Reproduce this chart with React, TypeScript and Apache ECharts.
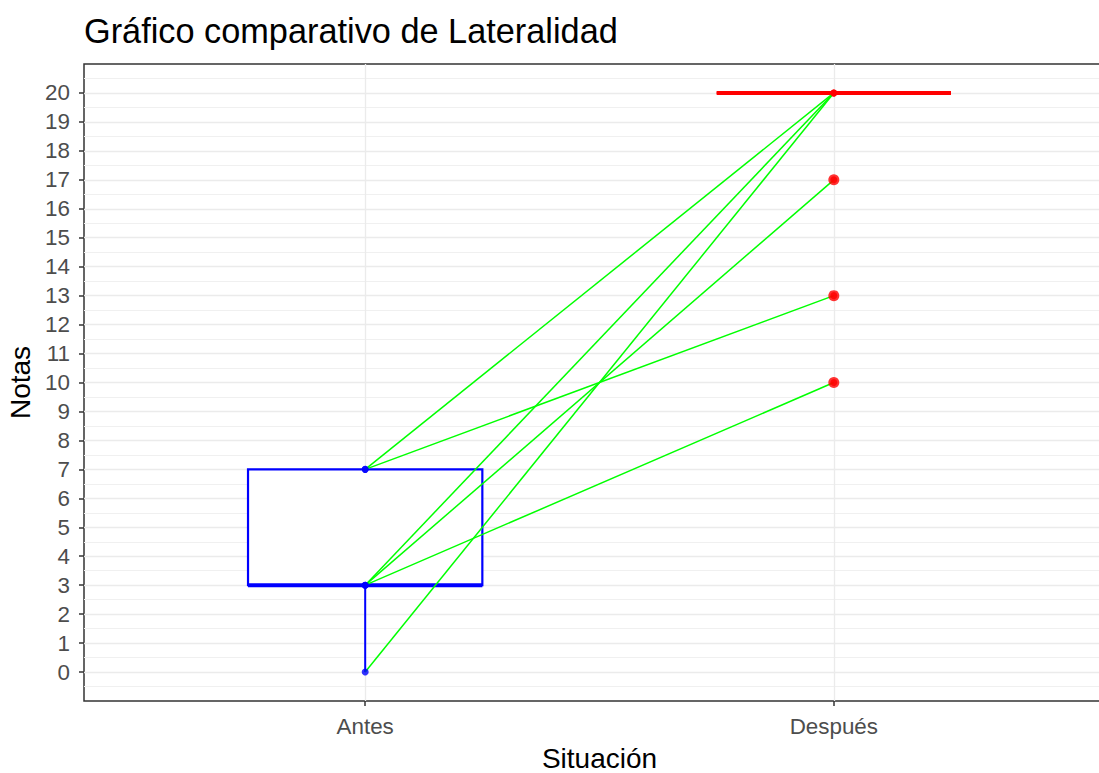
import React, { useEffect, useRef } from "react";
import * as echarts from "echarts";

// ---- Data ----
const categories = ["Antes", "Después"];
const categoryPositions = [1, 2];
const yTicks = [0, 1, 2, 3, 4, 5, 6, 7, 8, 9, 10, 11, 12, 13, 14, 15, 16, 17, 18, 19, 20];

// paired scores (Antes -> Después) drawn as green lines
const antesScores = [7, 7, 3, 3, 3, 0];
const despuesScores = [20, 13, 20, 17, 10, 20];

// boxplot statistics per situation
const boxMin = [0, 20];
const boxQ1 = [3, 20];
const boxMedian = [3, 20];
const boxQ3 = [7, 20];
const boxMax = [7, 20];
const boxColors = ["#0000FF", "#FF0000"];

// outliers of "Después"
const despuesOutliers = [10, 13, 17];

const FONT = "'Liberation Sans', Arial, Helvetica, sans-serif";
const BOX_WIDTH = 0.5;

export default function App() {
  const ref = useRef<HTMLDivElement>(null);

  useEffect(() => {
    if (!ref.current) return;
    const chart = echarts.init(ref.current, undefined, { renderer: "svg" });

    const boxData = categoryPositions.map((x, i) => [
      x,
      boxMin[i],
      boxQ1[i],
      boxMedian[i],
      boxQ3[i],
      boxMax[i],
    ]);

    const lineSeries = antesScores.map((a, i) => ({
      type: "line",
      data: [
        [categoryPositions[0], a],
        [categoryPositions[1], despuesScores[i]],
      ],
      symbol: "none",
      lineStyle: { color: "#00FF00", width: 1.5 },
      silent: true,
      z: 3,
    }));

    const option: any = {
      animation: false,
      backgroundColor: "#FFFFFF",
      title: {
        text: "Gráfico comparativo de Lateralidad",
        left: 84,
        top: 14,
        padding: 0,
        textStyle: {
          fontFamily: FONT,
          fontSize: 34.3,
          fontWeight: "normal",
          color: "#000000",
        },
      },
      grid: {
        left: 84,
        top: 64,
        width: 1031,
        height: 637,
        show: true,
        borderColor: "#333333",
        borderWidth: 1.5,
        backgroundColor: "#FFFFFF",
        containLabel: false,
        outerBoundsMode: "none",
      },
      xAxis: {
        type: "value",
        min: 0.4,
        max: 2.6,
        name: "Situación",
        nameLocation: "middle",
        nameGap: 44,
        nameTextStyle: { fontFamily: FONT, fontSize: 28, lineHeight: 27, color: "#000000" },
        axisLine: { show: false, onZero: false },
        axisTick: {
          show: true,
          customValues: categoryPositions,
          length: 5,
          lineStyle: { color: "#333333", width: 1.5 },
        },
        axisLabel: {
          customValues: categoryPositions,
          formatter: (v: number) => {
            const idx = categoryPositions.indexOf(Math.round(v));
            return idx >= 0 ? categories[idx] : "";
          },
          margin: 14,
          fontFamily: FONT,
          fontSize: 22.4,
          color: "#4D4D4D",
        },
        splitLine: { show: true, lineStyle: { color: "#EBEBEB", width: 1.3 } },
      },
      yAxis: {
        type: "value",
        min: -1,
        max: 21,
        interval: 1,
        name: "Notas",
        nameLocation: "middle",
        nameGap: 48,
        nameTextStyle: { fontFamily: FONT, fontSize: 28, color: "#000000" },
        axisLine: { show: false, onZero: false },
        axisTick: {
          show: true,
          customValues: yTicks,
          length: 5,
          lineStyle: { color: "#333333", width: 1.5 },
        },
        axisLabel: {
          customValues: yTicks,
          margin: 14,
          fontFamily: FONT,
          fontSize: 22.4,
          color: "#4D4D4D",
        },
        splitLine: { show: true, lineStyle: { color: "#EBEBEB", width: 1.3 } },
        minorTick: { show: false, splitNumber: 2 },
        minorSplitLine: { show: true, lineStyle: { color: "#F0F0F0", width: 1.2 } },
      },
      series: [
        {
          type: "custom",
          data: boxData,
          encode: { x: 0, y: [1, 2, 3, 4, 5] },
          silent: true,
          z: 2,
          renderItem: (params: any, api: any) => {
            const x = api.value(0);
            const lo = api.coord([x, api.value(1)]);
            const q1 = api.coord([x, api.value(2)]);
            const med = api.coord([x, api.value(3)]);
            const q3 = api.coord([x, api.value(4)]);
            const hi = api.coord([x, api.value(5)]);
            const halfW = api.size([BOX_WIDTH, 0])[0] / 2;
            const color = boxColors[params.dataIndex];
            return {
              type: "group",
              children: [
                {
                  type: "line",
                  shape: { x1: hi[0], y1: hi[1], x2: q3[0], y2: q3[1] },
                  style: { stroke: color, lineWidth: 2 },
                },
                {
                  type: "line",
                  shape: { x1: lo[0], y1: lo[1], x2: q1[0], y2: q1[1] },
                  style: { stroke: color, lineWidth: 2 },
                },
                {
                  type: "rect",
                  shape: {
                    x: q1[0] - halfW,
                    y: q3[1],
                    width: 2 * halfW,
                    height: q1[1] - q3[1],
                  },
                  style: { fill: "#FFFFFF", stroke: color, lineWidth: 2.2 },
                },
                {
                  type: "line",
                  shape: {
                    x1: med[0] - halfW,
                    y1: med[1],
                    x2: med[0] + halfW,
                    y2: med[1],
                  },
                  style: { stroke: color, lineWidth: 4 },
                },
              ],
            };
          },
        },
        ...lineSeries,
        {
          type: "scatter",
          data: despuesOutliers.map((v) => [categoryPositions[1], v]),
          symbol: "circle",
          symbolSize: 11,
          itemStyle: { color: "#FF0000" },
          silent: true,
          z: 4,
        },
        {
          type: "scatter",
          data: antesScores.map((v) => [categoryPositions[0], v]),
          symbol: "circle",
          symbolSize: 7,
          itemStyle: { color: "#0000FF" },
          silent: true,
          z: 5,
        },
        {
          type: "scatter",
          data: despuesScores.map((v) => [categoryPositions[1], v]),
          symbol: "circle",
          symbolSize: 7,
          itemStyle: { color: "#FF0000" },
          silent: true,
          z: 5,
        },
      ],
    };

    chart.setOption(option);
    return () => {
      chart.dispose();
    };
  }, []);

  return (
    <div
      ref={ref}
      style={{
        position: "absolute",
        left: 0,
        top: 0,
        width: 1099,
        height: 773,
        overflow: "hidden",
        background: "#FFFFFF",
      }}
    />
  );
}
